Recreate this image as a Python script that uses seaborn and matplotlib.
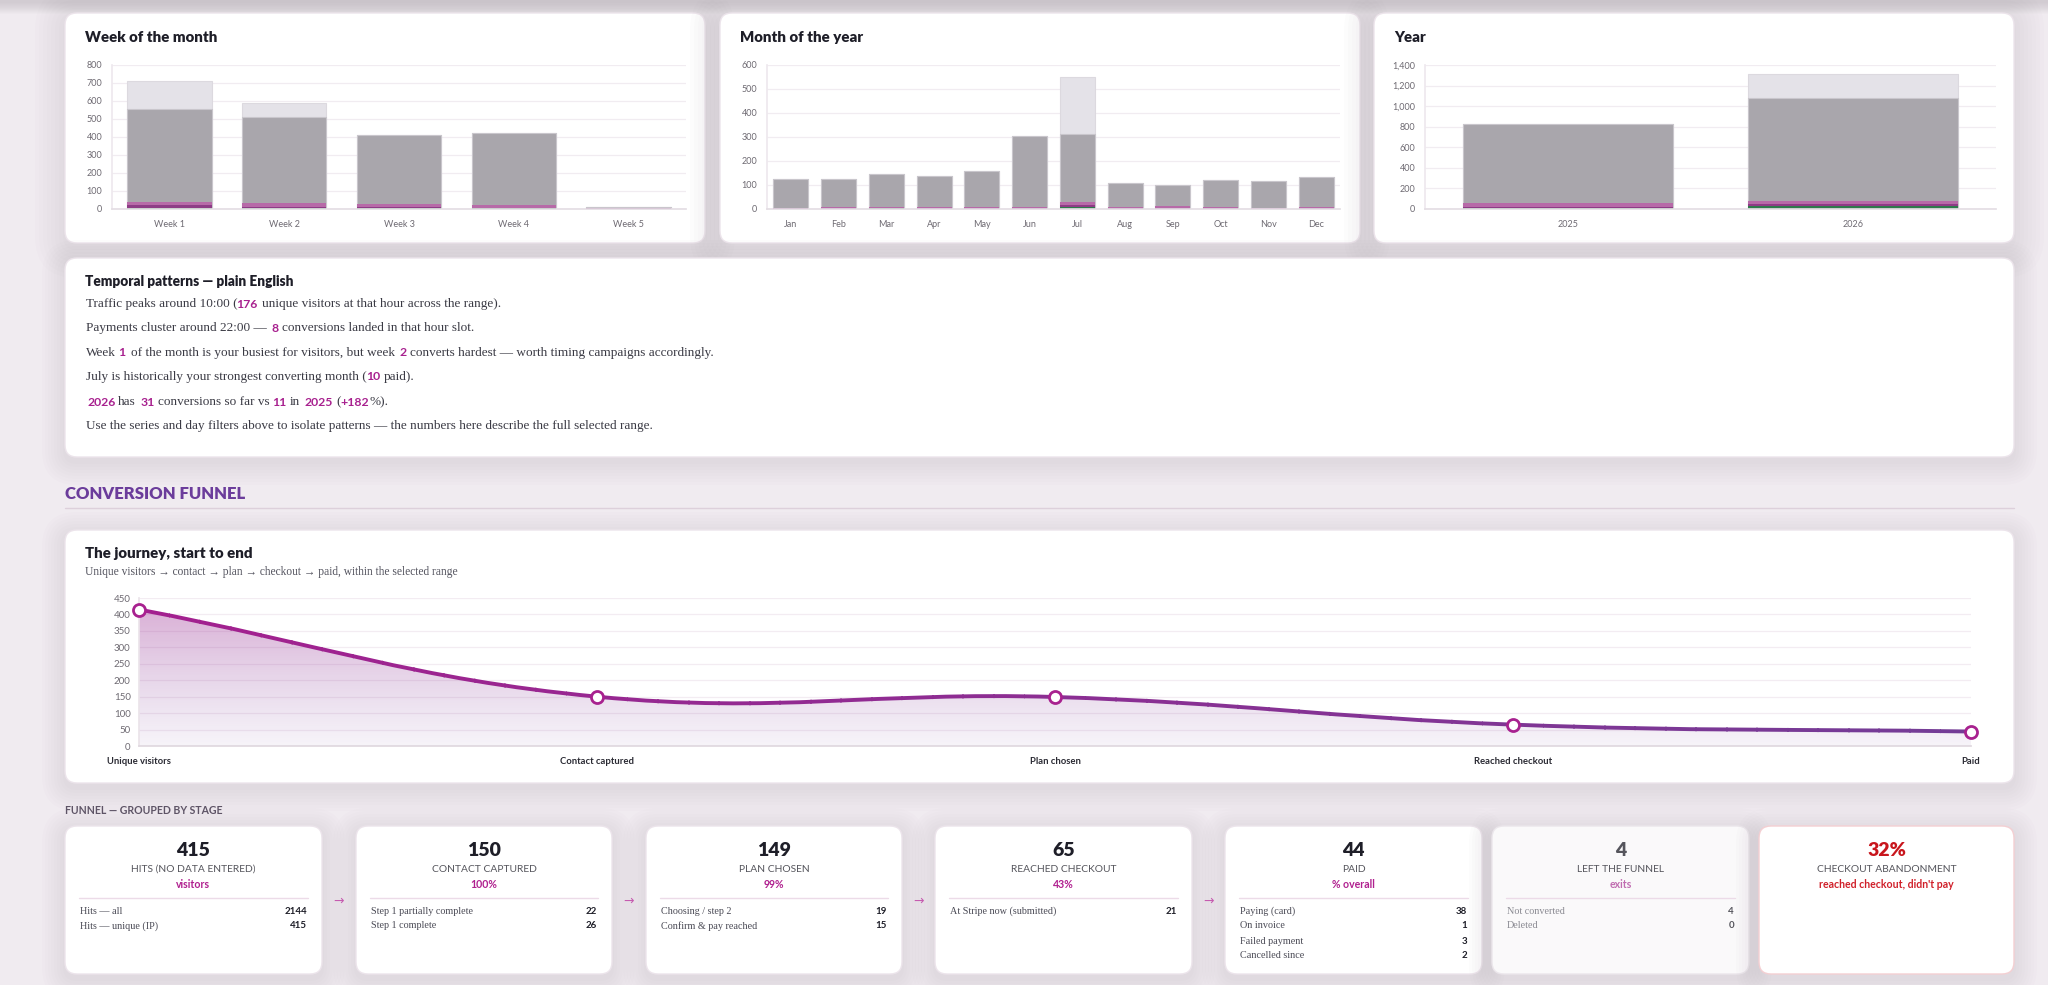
import matplotlib
matplotlib.use("Agg")

import numpy as np
import pandas as pd
import matplotlib.pyplot as plt
import seaborn as sns
from matplotlib.patches import FancyBboxPatch, PathPatch, Rectangle
from matplotlib.path import Path
from matplotlib.ticker import MultipleLocator, FuncFormatter
from matplotlib.colors import to_rgb

W, H = 2048, 985

# ── Data ─────────────────────────────────────────────────────────────────────
weeks = ["Week 1", "Week 2", "Week 3", "Week 4", "Week 5"]
week_hits_all = [710, 590, 412, 425, 10]
week_hits_unique = [555, 510, 410, 425, 10]
week_contact = [40, 35, 30, 22, 8]
week_checkout = [20, 12, 12, 8, 4]
week_paid = [6, 8, 8, 3, 2]

months = ["Jan", "Feb", "Mar", "Apr", "May", "Jun", "Jul", "Aug", "Sep", "Oct", "Nov", "Dec"]
month_hits_all = [127, 124, 147, 138, 158, 305, 550, 108, 100, 120, 115, 134]
month_hits_unique = [127, 124, 147, 138, 158, 305, 312, 108, 100, 120, 115, 134]
month_contact = [6, 10, 8, 8, 7, 10, 28, 10, 12, 8, 5, 10]
month_checkout = [3, 4, 4, 3, 4, 5, 18, 6, 3, 4, 2, 4]
month_paid = [1, 2, 4, 1, 2, 2, 10, 2, 1, 1, 0, 2]

years = ["2025", "2026"]
year_hits_all = [830, 1310]
year_hits_unique = [830, 1075]
year_contact = [60, 80]
year_checkout = [20, 45]
year_paid = [11, 31]

stages = ["Unique visitors", "Contact captured", "Plan chosen", "Reached checkout", "Paid"]
stage_values = [415, 150, 149, 65, 44]

card_numbers = ["415", "150", "149", "65", "44", "4", "32%"]
card_titles = ["HITS (NO DATA ENTERED)", "CONTACT CAPTURED", "PLAN CHOSEN", "REACHED CHECKOUT",
               "PAID", "LEFT THE FUNNEL", "CHECKOUT ABANDONMENT"]
card_subs = ["visitors", "100%", "99%", "43%", "% overall", "exits", "reached checkout, didn't pay"]
card_rows = [
    [("Hits — all", "2144"), ("Hits — unique (IP)", "415")],
    [("Step 1 partially complete", "22"), ("Step 1 complete", "26")],
    [("Choosing / step 2", "19"), ("Confirm & pay reached", "15")],
    [("At Stripe now (submitted)", "21")],
    [("Paying (card)", "38"), ("On invoice", "1"), ("Failed payment", "3"), ("Cancelled since", "2")],
    [("Not converted", "4"), ("Deleted", "0")],
    [],
]

# ── Style ────────────────────────────────────────────────────────────────────
sns.set_theme(style="white")
SANS = ["Lato", "DejaVu Sans"]
SERIF = ["Liberation Serif", "DejaVu Serif"]
plt.rcParams["font.family"] = SANS

BG = "#f0ebf0"
INK = "#1e1e28"
MAG = "#a8218f"
LIGHT_BAR = "#e4e2e8"
GRAY_BAR = "#a9a6ac"
PINK_BAR = "#b76aa8"
PLUM_BAR = "#8e3c86"
GREEN_BAR = "#2f7a4c"


def ink_span(s, **kw):
    # ink columns of a string relative to its pen origin, found by rendering it once
    f2 = plt.figure(figsize=(3, 0.6), dpi=100, facecolor="white")
    a = f2.add_axes([0, 0, 1, 1])
    a.set_xlim(0, 300)
    a.set_ylim(60, 0)
    a.axis("off")
    a.text(10, 30, s, color="black", va="center", ha="left", **kw)
    f2.canvas.draw()
    arr = np.asarray(f2.canvas.buffer_rgba())
    cols = np.where(arr[:, :, 0] < 200)[1]
    plt.close(f2)
    return cols.min() - 10, cols.max() + 1 - 10


fig = plt.figure(figsize=(W / 100, H / 100), dpi=100, facecolor=BG)
bg = fig.add_axes([0, 0, 1, 1])
bg.set_xlim(0, W)
bg.set_ylim(H, 0)
bg.axis("off")
bg.set_zorder(0)

# page shadow at the top
for i in range(12):
    bg.add_patch(Rectangle((0, 0), W, 14 - i, color="#a89ea8", alpha=0.035, lw=0))


def card(x0, y0, x1, y1, fc="white", ec="#ece4eb", shadow=True, spread=3):
    if shadow:
        for i in range(8):
            p = 2 + i * spread
            bg.add_patch(FancyBboxPatch((x0 - p, y0 - p + 5), x1 - x0 + 2 * p, y1 - y0 + 2 * p,
                                        boxstyle="round,pad=0,rounding_size=%d" % (12 + p),
                                        fc="#7a6a7a", ec="none", alpha=0.016))
    bg.add_patch(FancyBboxPatch((x0, y0), x1 - x0, y1 - y0,
                                boxstyle="round,pad=0,rounding_size=12",
                                fc=fc, ec=ec, lw=1))


def px_axes(x0, y0, x1, y1):
    ax = fig.add_axes([x0 / W, 1 - y1 / H, (x1 - x0) / W, (y1 - y0) / H])
    ax.patch.set_alpha(0)
    return ax


def bar_chart(ax, cats, layers, ymax, step, thousands=False):
    for vals, color, ec in layers:
        df = pd.DataFrame({"cat": cats, "v": vals})
        sns.barplot(data=df, x="cat", y="v", order=cats, color=color, width=0.735,
                    saturation=1, edgecolor=ec, linewidth=0.8, errorbar=None, ax=ax)
    ax.set_ylim(0, ymax)
    ax.yaxis.set_major_locator(MultipleLocator(step))
    if thousands:
        ax.yaxis.set_major_formatter(FuncFormatter(lambda v, p: f"{int(v):,}"))
    ax.set_xlabel("")
    ax.set_ylabel("")
    ax.grid(axis="y", color="#f1ecf1", lw=0.9)
    ax.set_axisbelow(True)
    for s in ["top", "right"]:
        ax.spines[s].set_visible(False)
    ax.spines["left"].set_color("#eee9ee")
    ax.spines["bottom"].set_color("#e4dee4")
    ax.tick_params(axis="y", labelsize=6.5, colors="#eee9ee", labelcolor="#6e6a72", length=5, width=0.8, pad=2)
    ax.tick_params(axis="x", labelsize=6.5, labelcolor="#6e6a72", length=0, pad=8)


def layers_for(all_, uniq, contact, checkout, paid):
    return [(all_, LIGHT_BAR, "#dcd9df"), (uniq, GRAY_BAR, "#c9c6cc"),
            (contact, PINK_BAR, "none"), (checkout, PLUM_BAR, "none"), (paid, GREEN_BAR, "none")]


# ── Top cards ────────────────────────────────────────────────────────────────
top_cards = [(65, 705, "Week of the month"), (720, 1360, "Month of the year"), (1374, 2014, "Year")]
for x0, x1, title in top_cards:
    card(x0, 13, x1, 243, spread=4)
    bg.text(x0 + 20, 38, title, fontsize=10.8, fontweight="heavy", color=INK, va="center", family=SANS)

ax_w = px_axes(112, 65, 686, 209)
bar_chart(ax_w, weeks, layers_for(week_hits_all, week_hits_unique, week_contact, week_checkout, week_paid), 800, 100)
ax_m = px_axes(767, 65, 1340, 209)
bar_chart(ax_m, months, layers_for(month_hits_all, month_hits_unique, month_contact, month_checkout, month_paid), 600, 100)
ax_y = px_axes(1425, 65, 1996, 209)
bar_chart(ax_y, years, layers_for(year_hits_all, year_hits_unique, year_contact, year_checkout, year_paid), 1400, 200, thousands=True)

# ── Temporal patterns text card ─────────────────────────────────────────────
card(65, 258, 2014, 457)
bg.text(85, 282, "Temporal patterns — plain English", fontsize=9.8, fontweight="heavy", color=INK,
        va="center", family=SANS)

renderer = fig.canvas.get_renderer()


def adv_w(s, **kw):
    # text extent in matplotlib 3.10 follows the pen advance (spaces included)
    t = bg.text(0, 0, s, **kw)
    w = t.get_window_extent(renderer).width
    t.remove()
    return w


def rich_line(x, y, parts, size=9.5):
    for s, hi in parts:
        fam = SANS if hi else SERIF
        wt = "bold" if hi else "normal"
        fs = size - 0.7 if hi else size
        kw = dict(fontsize=fs, family=fam, fontweight=wt)
        lead = len(s) - len(s.lstrip(" "))
        trail = len(s) - len(s.rstrip(" "))
        core = s.strip(" ")
        sp = adv_w(" ", **kw)
        x += lead * sp
        if hi:
            # tight placement by ink, like proportional figures
            left, right = ink_span(core, **kw)
            bg.text(x + 1.0 - left, y, core, color=MAG, va="center", ha="left", **kw)
            x += right - left + 2.0
        else:
            bg.text(x, y, core, color="#3a3a44", va="center", ha="left", **kw)
            x += adv_w(core, **kw)
        x += trail * sp


D, M = False, True
lines = [
    [("Traffic peaks around 10:00 (", D), ("176", M), (" unique visitors at that hour across the range).", D)],
    [("Payments cluster around 22:00 — ", D), ("8", M), (" conversions landed in that hour slot.", D)],
    [("Week ", D), ("1", M), (" of the month is your busiest for visitors, but week ", D), ("2", M),
     (" converts hardest — worth timing campaigns accordingly.", D)],
    [("July is historically your strongest converting month (", D), ("10", M), (" paid).", D)],
    [("2026", M), (" has ", D), ("31", M), (" conversions so far vs ", D), ("11", M), (" in ", D),
     ("2025", M), (" (", D), ("+182", M), ("%).", D)],
    [("Use the series and day filters above to isolate patterns — the numbers here describe the full selected range.", D)],
]
for y, parts in zip([304, 328, 353, 377, 402, 426], lines):
    rich_line(86, y, parts)

# ── Conversion funnel section ────────────────────────────────────────────────
bg.text(65, 494, "CONVERSION FUNNEL", fontsize=12, fontweight="heavy", color="#6b3c9b", va="center", family=SANS)
bg.plot([65, 2014], [508, 508], color="#ddd0db", lw=1)

card(65, 530, 2014, 783)
bg.text(85, 554, "The journey, start to end", fontsize=10.8, fontweight="heavy", color=INK, va="center", family=SANS)
bg.text(85, 572, "Unique visitors → contact → plan → checkout → paid, within the selected range",
        fontsize=8.3, color="#555560", va="center", family=SERIF)

ax_f = px_axes(139, 598, 1971, 746)
n = len(stage_values)
fx = np.arange(n, dtype=float)
fy = np.array(stage_values, dtype=float)

# Chart.js-like smooth curve (tension 0.4), control points computed in pixel space
sx = (1971 - 139) / (n - 1)
sy = (746 - 598) / 450
P = np.column_stack([fx * sx, fy * sy])
cp_prev, cp_next = [], []
for i in range(n):
    prev = P[i - 1] if i > 0 else P[i]
    nxt = P[i + 1] if i < n - 1 else P[i]
    d01 = np.linalg.norm(P[i] - prev)
    d12 = np.linalg.norm(nxt - P[i])
    tot = d01 + d12
    s01 = d01 / tot if tot else 0
    s12 = d12 / tot if tot else 0
    cp_prev.append(P[i] - 0.4 * s01 * (nxt - prev))
    cp_next.append(P[i] + 0.4 * s12 * (nxt - prev))
scale = np.array([sx, sy])
verts = [P[0] / scale]
codes = [Path.MOVETO]
for i in range(n - 1):
    verts += [cp_next[i] / scale, cp_prev[i + 1] / scale, P[i + 1] / scale]
    codes += [Path.CURVE4] * 3
curve = Path(verts, codes)
area = Path(verts + [(n - 1, 0), (0, 0), verts[0]], codes + [Path.LINETO, Path.LINETO, Path.CLOSEPOLY])

grad = np.zeros((100, 2, 4))
t = np.linspace(0, 1, 100)[:, None]
top_c = np.array(to_rgb("#a02a92"))
bot_c = np.array(to_rgb("#8a5aa8"))
grad[:, :, :3] = (bot_c * (1 - t) + top_c * t)[:, None, :]
grad[:, :, 3] = (0.07 + 0.33 * t)
area_patch = PathPatch(area, fc="none", ec="none", transform=ax_f.transData)
ax_f.add_patch(area_patch)
img = ax_f.imshow(grad, extent=[0, n - 1, 0, 450], origin="lower", aspect="auto", zorder=1, interpolation="bilinear")
img.set_clip_path(area_patch)

# line with left-to-right colour shift
c_left = np.array(to_rgb("#a3208f"))
c_right = np.array(to_rgb("#743c96"))
N = 60
for k in range(N):
    xa = (n - 1) * k / N
    xb = (n - 1) * (k + 1) / N
    c = c_left * (1 - k / (N - 1)) + c_right * (k / (N - 1))
    lp = PathPatch(curve, fc="none", ec=c, lw=2.8, zorder=3, transform=ax_f.transData)
    ax_f.add_patch(lp)
    lp.set_clip_path(Rectangle((xa - 0.002, -100), xb - xa + 0.004, 700, transform=ax_f.transData))

sns.scatterplot(x=fx, y=fy, ax=ax_f, s=75, color="white", edgecolor=MAG, linewidth=2.0, zorder=5, clip_on=False)
ax_f.set_xlim(0, n - 1)
ax_f.set_ylim(0, 450)
ax_f.yaxis.set_major_locator(MultipleLocator(50))
ax_f.set_xticks(fx)
ax_f.set_xticklabels(stages, fontweight="bold", fontsize=6.8, color="#2a2a33")
ax_f.tick_params(axis="x", length=0, pad=8)
ax_f.tick_params(axis="y", labelsize=7, labelcolor="#6e6a72", colors="#eee9ee", length=4, pad=2)
ax_f.grid(axis="y", color="#f3ecf2", lw=0.9)
ax_f.set_axisbelow(True)
for s in ["top", "right"]:
    ax_f.spines[s].set_visible(False)
ax_f.spines["left"].set_color("#ebe4ea")
ax_f.spines["bottom"].set_color("#e0d8df")

# ── Grouped stage cards ──────────────────────────────────────────────────────
bg.text(65, 810, "FUNNEL — GROUPED BY STAGE", fontsize=7.6, fontweight="bold", color="#5e5466", va="center", family=SANS)

card_x = [(65, 322), (356, 612), (646, 902), (935, 1192), (1225, 1482), (1492, 1749), (1759, 2014)]
for i, (x0, x1) in enumerate(card_x):
    if i == 5:
        card(x0, 826, x1, 974, fc="#faf9fa", ec="#ebe6eb")
    elif i == 6:
        card(x0, 826, x1, 974, ec="#f4cfd2")
    else:
        card(x0, 826, x1, 974)
    cx = (x0 + x1) / 2
    num_c = "#55555c" if i == 5 else ("#c8161d" if i == 6 else INK)
    sub_c = "#c06cb0" if i == 5 else ("#d0202a" if i == 6 else "#b0208f")
    bg.text(cx, 850, card_numbers[i], fontsize=14, fontweight="heavy", color=num_c, ha="center", va="center", family=SANS)
    bg.text(cx, 869, card_titles[i], fontsize=7.4, color="#55555c", ha="center", va="center", family=SANS)
    bg.text(cx, 885, card_subs[i], fontsize=7.6, fontweight="bold", color=sub_c, ha="center", va="center", family=SANS)
    if card_rows[i]:
        bg.plot([x0 + 14, x1 - 14], [898, 898], color="#ecdbe8", lw=1)
        lab_c = "#8a8a92" if i == 5 else "#4a4a55"
        val_c = "#55555c" if i == 5 else INK
        for j, (lab, val) in enumerate(card_rows[i]):
            yy = 911 + j * 15
            bg.text(x0 + 15, yy, lab, fontsize=7.3, color=lab_c, va="center", family=SERIF)
            bg.text(x1 - 15, yy, val, fontsize=7, fontweight="bold", color=val_c, ha="right", va="center", family=SANS)

for i in range(4):
    ax_ = (card_x[i][1] + card_x[i + 1][0]) / 2
    bg.text(ax_, 901, "→", fontsize=9, color="#c65bb0", ha="center", va="center", family=["DejaVu Sans"])

fig.savefig("out.png", dpi=100, facecolor=BG)
plt.close(fig)
